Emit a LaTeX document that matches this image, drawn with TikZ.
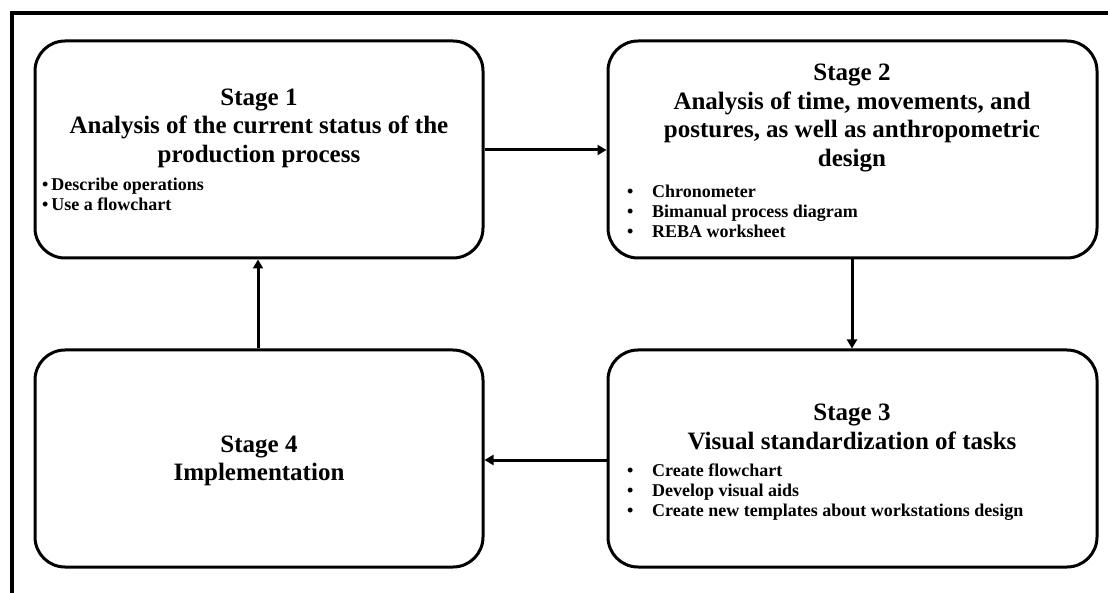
\documentclass[tikz,border=0pt]{standalone}
\usepackage{fontspec}
\setmainfont{Liberation Serif}
\usetikzlibrary{arrows.meta}
\tikzset{
  stagebox/.style={draw, line width=3pt, rounded corners=30pt, inner sep=0pt},
  ttl/.style={font=\fontsize{25}{28.5}\selectfont\bfseries, align=center, inner sep=0pt},
  blist/.style={font=\fontsize{18}{20}\selectfont\bfseries, align=left, anchor=west, inner sep=0pt},
  arr/.style={line width=3pt, -{Triangle[length=9pt,width=10pt]}},
  frameline/.style={line width=4pt}
}
\newcommand{\tb}{\makebox[25pt][l]{\textbullet}}
\begin{document}
\begin{tikzpicture}[x=1pt,y=-1pt]
\useasboundingbox (0,0) rectangle (1108,593);
\coordinate (fr) at (1108,13);
\coordinate (fc) at (12,13);
\coordinate (fb) at (12,593);
\draw[frameline] (fr) -- (fc) -- (fb);

\node[stagebox, minimum width=448pt, minimum height=217pt] (s1) at (259,149.5) {};
\node[stagebox, minimum width=489pt, minimum height=217pt] (s2) at (852.5,149.5) {};
\node[stagebox, minimum width=489pt, minimum height=217pt] (s3) at (852.5,458.5) {};
\node[stagebox, minimum width=448pt, minimum height=217pt] (s4) at (259,458.5) {};

\node[ttl] (t1) at (259,128) {Stage 1\\Analysis of the current status of the\\production process};
\node[blist] (b1) at (42,194) {\textbullet\,Describe operations\\\textbullet\,Use a flowchart};

\node[ttl] (t2) at (852,118) {Stage 2\\Analysis of time, movements, and\\postures, as well as anthropometric\\design};
\node[blist] (b2) at (627,211) {\tb Chronometer\\\tb Bimanual process diagram\\\tb REBA worksheet};

\node[ttl] (t3) at (852,427) {Stage 3\\Visual standardization of tasks};
\node[blist] (b3) at (627,492) {\tb Create flowchart\\\tb Develop visual aids\\\tb Create new templates about workstations design};

\node[ttl] (t4) at (259,461) {Stage 4\\Implementation};

\draw[arr] (s1.east |- 0,150) -- (s2.west |- 0,150);
\draw[arr] (s2.south -| 852,0) -- (s3.north -| 852,0);
\draw[arr] (s3.west |- 0,460) -- (s4.east |- 0,460);
\draw[arr] (s4.north -| 258,0) -- (s1.south -| 258,0);
\end{tikzpicture}
\end{document}
